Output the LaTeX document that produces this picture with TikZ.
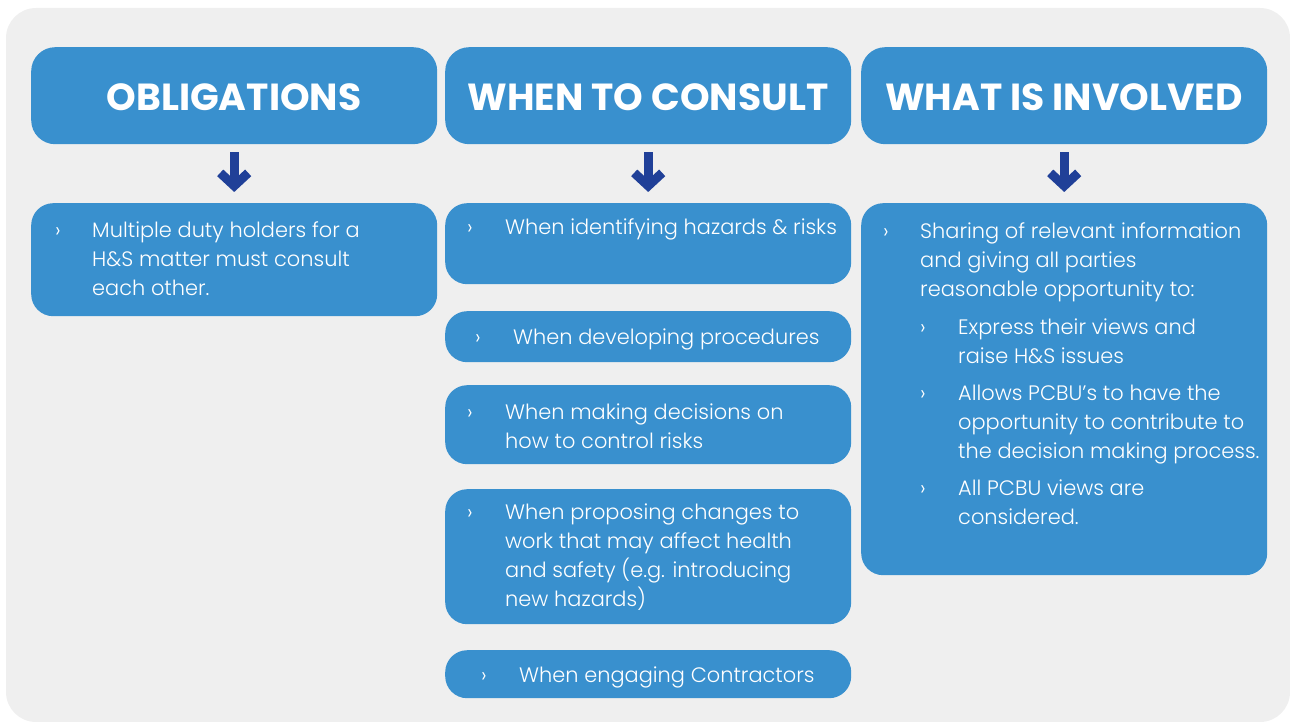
\documentclass[tikz,border=0pt]{standalone}
\usepackage{fontspec}
\setmainfont{Poppins}[UprightFont=* Light, BoldFont=* Bold]
\usetikzlibrary{arrows.meta}
\definecolor{boxblue}{RGB}{57,144,206}
\definecolor{arrowblue}{RGB}{32,64,152}
\definecolor{panelgray}{RGB}{239,239,239}
\newcommand{\lines}[1]{\parbox[t]{380pt}{\raggedright #1}}
\tikzset{
  headbox/.style={fill=boxblue, rounded corners=24pt, minimum width=406pt, minimum height=97pt,
    inner sep=0pt, anchor=north west},
  headtext/.style={text=white, font=\bfseries\fontsize{37.7}{40}\selectfont, inner sep=0pt, anchor=base},
  bodybox/.style={fill=boxblue, rounded corners=22pt, minimum width=406pt, inner sep=0pt, anchor=north west},
  itemtext/.style={text=white, font=\fontsize{20.9}{29.2}\selectfont, inner sep=0pt, anchor=base west},
  downarrow/.style={draw=arrowblue, line width=9pt, shorten <=8pt, shorten >=11pt,
    -{Straight Barb[length=13pt, width=28pt, sharp]}},
}
\begin{document}
\begin{tikzpicture}[x=1pt, y=-1pt]
  \useasboundingbox (0,0) rectangle (1290,722);
  \fill[panelgray, rounded corners=30pt] (6,8) rectangle (1290,722);

  % column heads
  \node[headbox] (h1) at (31,47) {};
  \node[headbox] (h2) at (445,47) {};
  \node[headbox] (h3) at (861,47) {};
  \node[headtext] (t1) at (234,111) {OBLIGATIONS};
  \node[headtext] (t2) at (648,111) {WHEN TO CONSULT};
  \node[headtext] (t3) at (1064,111) {WHAT IS INVOLVED};

  % boxes below
  \node[bodybox, minimum height=113pt] (b1) at (31,203) {};
  \node[bodybox, minimum height=81pt] (c1) at (445,203) {};
  \node[bodybox, minimum height=51pt] (c2) at (445,311) {};
  \node[bodybox, minimum height=79pt] (c3) at (445,385) {};
  \node[bodybox, minimum height=135pt] (c4) at (445,489) {};
  \node[bodybox, minimum height=48pt] (c5) at (445,650) {};
  \node[bodybox, minimum height=372pt] (d1) at (861,203) {};

  \draw[downarrow] (h1.south) -- (b1.north);
  \draw[downarrow] (h2.south) -- (c1.north);
  \draw[downarrow] (h3.south) -- (d1.north);

  % bullet texts
  \node[itemtext] (m1) at (55,237) {›};
  \node[itemtext] (n1) at (92,237) {\lines{Multiple duty holders for a\\H\&S matter must consult\\each other.}};

  \node[itemtext] (m2) at (467,234) {›};
  \node[itemtext] (n2) at (505,234) {\lines{When identifying hazards \& risks}};
  \node[itemtext] (m3) at (475,344) {›};
  \node[itemtext] (n3) at (513,344) {\lines{When developing procedures}};
  \node[itemtext] (m4) at (467,419) {›};
  \node[itemtext] (n4) at (505,419) {\lines{When making decisions on\\how to control risks}};
  \node[itemtext] (m5) at (467,519) {›};
  \node[itemtext] (n5) at (505,519) {\lines{When proposing changes to\\work that may affect health\\and safety (e.g. introducing\\new hazards)}};
  \node[itemtext] (m6) at (481,682) {›};
  \node[itemtext] (n6) at (519,682) {\lines{When engaging Contractors}};

  \node[itemtext] (m7) at (883,238) {›};
  \node[itemtext] (n7) at (920,238) {\lines{Sharing of relevant information\\and giving all parties\\reasonable opportunity to:}};
  \node[itemtext] (m8) at (920,334) {›};
  \node[itemtext] (n8) at (958,334) {\lines{Express their views and\\raise H\&S issues}};
  \node[itemtext] (m9) at (920,400) {›};
  \node[itemtext] (n9) at (958,400) {\lines{Allows PCBU’s to have the\\opportunity to contribute to\\the decision making process.}};
  \node[itemtext] (m10) at (920,495) {›};
  \node[itemtext] (n10) at (958,495) {\lines{All PCBU views are\\considered.}};
\end{tikzpicture}
\end{document}
